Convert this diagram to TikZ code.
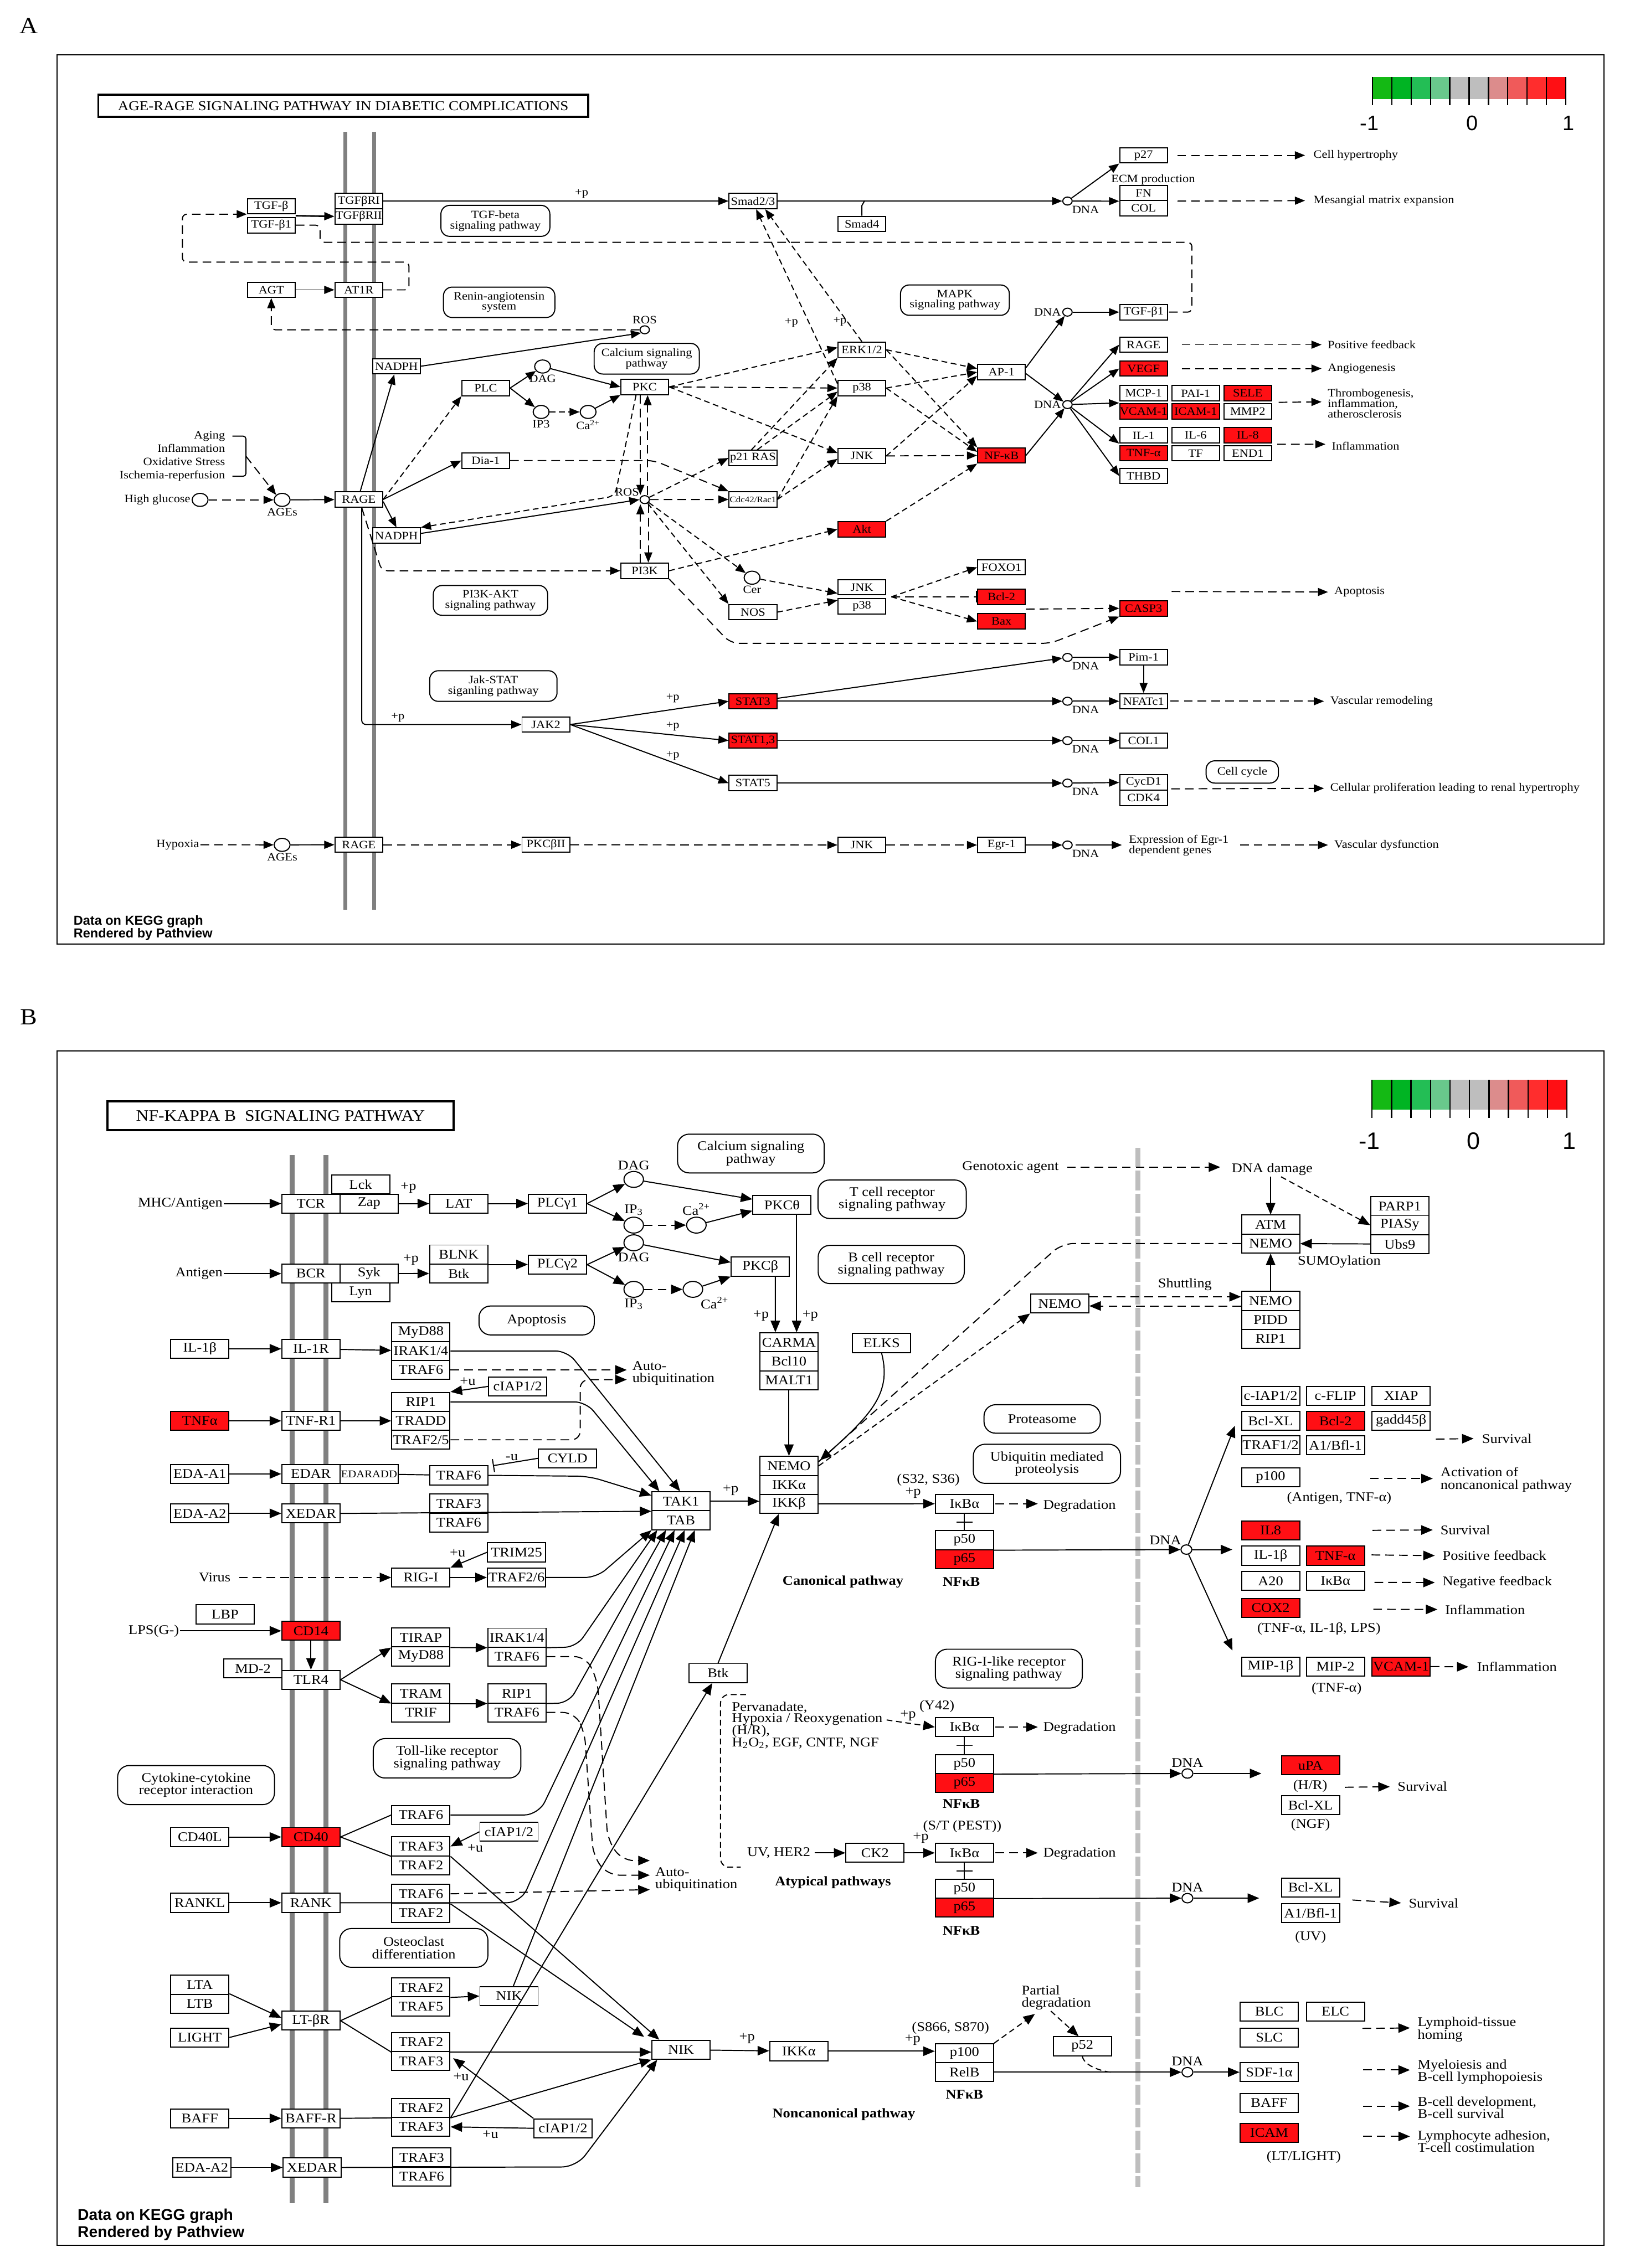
\documentclass[tikz,border=0pt]{standalone}
\usepackage{fontspec}
\setmainfont{Liberation Serif}[FakeStretch=1.1]
\newfontfamily\kegsans{Liberation Sans}
\usepackage{tikz}
\usetikzlibrary{arrows.meta,positioning,calc,shapes.geometric}
\definecolor{keggred}{RGB}{255,15,20}
\definecolor{memgray}{RGB}{128,128,128}
\definecolor{nucgray}{RGB}{190,190,190}
\definecolor{lg1}{RGB}{20,185,20}
\definecolor{lg2}{RGB}{0,180,35}
\definecolor{lg3}{RGB}{35,190,85}
\definecolor{lg4}{RGB}{105,200,140}
\definecolor{lg5}{RGB}{190,190,190}
\definecolor{lg6}{RGB}{190,190,190}
\definecolor{lg7}{RGB}{220,140,140}
\definecolor{lg8}{RGB}{240,90,90}
\definecolor{lg9}{RGB}{255,45,45}
\definecolor{lg10}{RGB}{255,15,20}
\newcommand\fa{\fontsize{7.8}{7.2}\selectfont}
\newcommand\fb{\fontsize{9.2}{8.6}\selectfont}
\begin{document}
\begin{tikzpicture}[x=1pt,y=-1pt,line width=0.75pt,
  gA/.style={draw,fill=white,minimum width=33pt,minimum height=10.6pt,inner sep=0pt,font=\fa},
  gB/.style={draw,fill=white,minimum width=40.2pt,minimum height=13.1pt,inner sep=0pt,font=\fb},
  pwA/.style={draw,rounded corners=6pt,align=center,inner sep=0pt,font=\fa},
  pwB/.style={draw,rounded corners=8pt,align=center,inner sep=0pt,font=\fb},
  cpA/.style={draw,ellipse,fill=white,minimum width=11pt,minimum height=9pt,inner sep=0pt},
  dnA/.style={draw,ellipse,fill=white,minimum width=6.5pt,minimum height=5.5pt,inner sep=0pt},
  cpB/.style={draw,ellipse,fill=white,minimum width=13.5pt,minimum height=11pt,inner sep=0pt},
  dnB/.style={draw,ellipse,fill=white,minimum width=7.5pt,minimum height=6.5pt,inner sep=0pt},
  lbA/.style={font=\fa,inner sep=0.5pt,align=left},
  lbB/.style={font=\fb,inner sep=0.5pt,align=left},
  nfk/.style={font=\fb\bfseries,inner sep=0.5pt},
  act/.style={-{Triangle[length=7pt,width=5.5pt]}},
  actB/.style={-{Triangle[length=8pt,width=6.5pt]}},
  inh/.style={-{Bar[width=8pt]}},
  ind/.style={dash pattern=on 4pt off 2.5pt},
  outd/.style={dash pattern=on 6pt off 3.5pt}]
\useasboundingbox (0,0) rectangle (1130,1568);

%% panel A
\node[font=\fontsize{16}{16}\selectfont] (a_letter) at (20,18) {A};
\draw[line width=0.9pt] (39.5,38) rectangle (1108.5,652.8);
\draw[memgray,line width=2.8pt] (238.6,91) -- (238.6,629) (258.6,91) -- (258.6,629);
\node[draw,line width=1.4pt,minimum width=338.5pt,minimum height=15.3pt,inner sep=0pt,font=\fontsize{9.4}{10}\selectfont] (a_title) at (237.2,73.2) {AGE-RAGE SIGNALING PATHWAY IN DIABETIC COMPLICATIONS};
\foreach \c [count=\i from 0] in {lg1,lg2,lg3,lg4,lg5,lg6,lg7,lg8,lg9,lg10}
  \fill[\c] (948.6+13.36*\i,53.2) rectangle ++(13.36,15.2);
\foreach \i in {0,...,10} \draw[line width=0.9pt] (948.6+13.36*\i,53.2) -- ++(0,19.6);
\foreach \n/\t/\x in {m/-1/946.6,z/0/1017.6,p/1/1084}
  \node[font=\kegsans\fontsize{14.5}{14.5}\selectfont] (a_lg\n) at (\x,85.3) {\t};
\node[font=\kegsans\bfseries\fontsize{9}{9}\selectfont,anchor=west,align=left,inner sep=0pt] (a_credit) at (50.5,641.5) {Data on KEGG graph\\Rendered by Pathview};

\node[gA] (a_tgfb) at (187.5,142.6) {TGF-β};
\node[gA] (a_tgfb1) at (187.5,155.7) {TGF-β1};
\node[gA] (a_tgfbr1) at (248,139) {TGFβRI};
\node[gA] (a_tgfbr2) at (248,149.6) {TGFβRII};
\node[gA] (a_agt) at (187.5,200.4) {AGT};
\node[gA] (a_at1r) at (248,200.4) {AT1R};
\node[gA] (a_smad23) at (520.4,139) {Smad2/3};
\node[gA] (a_smad4) at (595.7,154.8) {Smad4};
\node[dnA,label={[lbA]below right:DNA}] (a_dna1) at (737.8,139) {};
\node[gA] (a_p27) at (790.4,107.4) {p27};
\node[gA] (a_fn) at (790.4,133.4) {FN};
\node[gA] (a_col) at (790.4,144) {COL};
\node[lbA] (a_ecm) at (797,124.2) {ECM production};
\node[gA] (a_nadph1) at (274,253.2) {NADPH};
\node[dnA,label={[lbA]above:ROS}] (a_ros1) at (445.6,228) {};
\node[gA] (a_plc) at (335.7,268.3) {PLC};
\node[cpA,label={[lbA]below:DAG}] (a_dag) at (375,253.4) {};
\node[cpA,label={[lbA]below:IP3}] (a_ip3) at (374,284.8) {};
\node[cpA,label={[lbA]below:Ca\textsuperscript{2+}}] (a_ca) at (406.5,284.8) {};
\node[gA] (a_pkc) at (445.6,267.5) {PKC};
\node[gA] (a_dia1) at (335.7,318.4) {Dia-1};
\node[gA] (a_rage1) at (248,345.3) {RAGE};
\node[cpA,label={[lbA]below:AGEs}] (a_ages1) at (195,345.6) {};
\node[cpA] (a_hg) at (138.3,345.6) {};
\node[lbA,left=0pt of a_hg] (a_hgl) {High glucose};
\node[lbA,anchor=east,align=right,font=\fontsize{7.8}{9.3}\selectfont] (a_stress) at (156.4,315.4) {Aging\\Inflammation\\Oxidative Stress\\Ischemia-reperfusion};
\node[dnA,label={[lbA]150:ROS}] (a_ros2) at (445.6,345.4) {};
\node[gA] (a_p21ras) at (520.4,316.6) {p21 RAS};
\node[gA,font=\fontsize{5.9}{6}\selectfont] (a_cdc42) at (520.4,345.3) {Cdc42/Rac1};
\node[gA] (a_nadph2) at (274,370.3) {NADPH};
\node[gA] (a_pi3k) at (445.6,394.6) {PI3K};
\node[cpA,label={[lbA]below:Cer}] (a_cer) at (519.8,399.4) {};
\node[gA] (a_nos) at (520.4,423.2) {NOS};
\node[gA,fill=keggred] (a_akt) at (595.7,365.9) {Akt};
\node[gA] (a_jnk2) at (595.7,406) {JNK};
\node[gA] (a_p382) at (595.7,419.2) {p38};
\node[gA] (a_foxo1) at (692.2,392.2) {FOXO1};
\node[gA,fill=keggred] (a_bcl2) at (692.2,412.6) {Bcl-2};
\node[gA,fill=keggred] (a_bax) at (692.2,429.6) {Bax};
\node[gA,fill=keggred] (a_casp3) at (790.4,420.6) {CASP3};
\node[gA] (a_erk) at (595.7,241.8) {ERK1/2};
\node[gA] (a_p381) at (595.7,268.3) {p38};
\node[gA] (a_jnk1) at (595.7,315.2) {JNK};
\node[gA] (a_ap1) at (692.2,257.3) {AP-1};
\node[gA,fill=keggred] (a_nfkb) at (692.2,314.9) {NF-κB};
\node[dnA,label={[lbA]left:DNA}] (a_dna2) at (737.8,215.8) {};
\node[gA] (a_tgfb1r) at (790.4,215.8) {TGF-β1};
\node[dnA,label={[lbA]left:DNA}] (a_dna3) at (737.8,279.7) {};
\node[gA] (a_rage2) at (790.4,238.3) {RAGE};
\node[gA,fill=keggred] (a_vegf) at (790.4,254.8) {VEGF};
\foreach \n/\t/\x/\y/\s in {mcp1/MCP-1/790.4/271.9/white,pai1/PAI-1/826.4/271.9/white,sele/SELE/862.4/271.9/keggred,
  vcam1/VCAM-1/790.4/284.5/keggred,icam1/ICAM-1/826.4/284.5/keggred,mmp2/MMP2/862.4/284.5/white,
  il1/IL-1/790.4/301/white,il6/IL-6/826.4/301/white,il8/IL-8/862.4/301/keggred,
  tnfa/TNF-α/790.4/313.3/keggred,tf/TF/826.4/313.3/white,end1/END1/862.4/313.3/white,thbd/THBD/790.4/329/white}
  \node[gA,fill=\s] (a_\n) at (\x,\y) {\t};
\node[gA] (a_jak2) at (377.3,500.9) {JAK2};
\node[gA,fill=keggred] (a_stat3) at (520.4,484.8) {STAT3};
\node[gA,fill=keggred] (a_stat13) at (520.4,512) {STAT1,3};
\node[gA] (a_stat5) at (520.4,541.4) {STAT5};
\node[dnA,label={[lbA]below right:DNA}] (a_dna4) at (737.8,454.5) {};
\node[gA] (a_pim1) at (790.4,454.3) {Pim-1};
\node[dnA,label={[lbA]below right:DNA}] (a_dna5) at (737.8,484.8) {};
\node[gA] (a_nfatc1) at (790.4,484.8) {NFATc1};
\node[dnA,label={[lbA]below right:DNA}] (a_dna6) at (737.8,512) {};
\node[gA] (a_col1) at (790.4,512) {COL1};
\node[dnA,label={[lbA]below right:DNA}] (a_dna7) at (737.8,541.4) {};
\node[gA] (a_cycd1) at (790.4,541) {CycD1};
\node[gA] (a_cdk4) at (790.4,551.6) {CDK4};
\node[lbA] (a_hypox) at (122.9,584) {Hypoxia};
\node[cpA,label={[lbA]below:AGEs}] (a_ages2) at (195,584.1) {};
\node[gA] (a_rage3) at (248,584) {RAGE};
\node[gA] (a_pkcb2) at (377.3,584) {PKCβII};
\node[gA] (a_jnk3) at (595.7,584.2) {JNK};
\node[gA] (a_egr1) at (692.2,584.2) {Egr-1};
\node[dnA,label={[lbA]below right:DNA}] (a_dna8) at (737.8,584.2) {};
\node[lbA,anchor=west] (a_expr) at (779.4,584.6) {Expression of Egr-1\\dependent genes};

\node[pwA,minimum width=75.3pt,minimum height=21.4pt] (a_tgfpw) at (342.4,152.7) {TGF-beta\\signaling pathway};
\node[pwA,minimum width=77pt,minimum height=21pt] (a_renpw) at (345,209) {Renin-angiotensin\\system};
\node[pwA,minimum width=72.7pt,minimum height=21.2pt] (a_capw) at (447,248) {Calcium signaling\\pathway};
\node[pwA,minimum width=75.2pt,minimum height=21pt] (a_mapkpw) at (660,207.5) {MAPK\\signaling pathway};
\node[pwA,minimum width=79pt,minimum height=20.6pt] (a_pi3kpw) at (339,415.1) {PI3K-AKT\\signaling pathway};
\node[pwA,minimum width=88pt,minimum height=21.2pt] (a_jakpw) at (341,474.3) {Jak-STAT\\siganling pathway};
\node[pwA,minimum width=50pt,minimum height=15.4pt] (a_ccpw) at (858.6,533.7) {Cell cycle};

\node[lbA,anchor=west] (a_o1) at (907,107.4) {Cell hypertrophy};
\node[lbA,anchor=west] (a_o2) at (907,138.7) {Mesangial matrix expansion};
\node[lbA,anchor=west] (a_o3) at (916.9,238.3) {Positive feedback};
\node[lbA,anchor=west] (a_o4) at (916.9,254.8) {Angiogenesis};
\node[lbA,anchor=west] (a_o5) at (916.9,279) {Thrombogenesis,\\inflammation,\\atherosclerosis};
\node[lbA,anchor=west] (a_o6) at (919.6,308.3) {Inflammation};
\node[lbA,anchor=west] (a_o7) at (921.4,409.3) {Apoptosis};
\node[lbA,anchor=west] (a_o8) at (918.6,484.8) {Vascular remodeling};
\node[lbA,anchor=west] (a_o9) at (918.6,545) {Cellular proliferation leading to renal hypertrophy};
\node[lbA,anchor=west] (a_o10) at (921.4,584.2) {Vascular dysfunction};
\foreach \n/\x/\y in {1/402/134,2/547/223,3/580.5/222.5,4/275/496,5/465/482.5,6/465/502.3,7/465/522.6}
  \node[lbA] (a_pp\n) at (\x,\y) {+p};

\draw[act,line width=1.1pt] ($(a_tgfb.south east)!0.5!(a_tgfb1.north east)$) -- (a_tgfbr2.west);
\draw[act] (a_tgfbr1) -- (a_smad23);
\draw[act] (a_smad23) -- (a_dna1);
\draw (a_smad4.north) -- ++(0,-7) -- ++(2,-3.5);
\draw[act] (a_dna1) -- (a_p27.south west);
\draw[act] (a_dna1) -- (a_fn.south west);
\draw[outd,act,shorten <=6.5pt,shorten >=5pt] (a_p27.east) -- (a_o1.west);
\draw[outd,act,shorten <=6.5pt,shorten >=5pt] (a_fn.south east) -- (a_o2.west);
\draw[outd,rounded corners=3pt] (a_tgfb1.east) -| ++(16.8,11.8) -| ($(a_tgfb1r.east)+(16.5,0)$) -- (a_tgfb1r.east);
\draw[outd,act,rounded corners=3pt] (a_at1r.east) -| ++(17.8,-19.2) -| ++(-156.6,-33.1) -- ($(a_tgfb.west)+(0,5.5)$);
\draw[act] (a_agt) -- (a_at1r);
\draw[outd,act,rounded corners=3pt] (a_ros1.west) -| (a_agt.south);
\draw[act] (a_nadph1.east) -- (a_ros1.south west);
\draw[act] ($(a_rage1.north)+(1,0)$) -- ($(a_nadph1.south)+(-1.5,0)$);
\draw[ind,act] (a_rage1.east) -- (a_plc.south west);
\draw[act] (a_rage1.east) -- (a_dia1.west);
\draw[act] ($(a_rage1.east)+(0,1.5)$) -- (a_nadph2.north);
\draw[outd,act,rounded corners=4pt] ($(a_rage1.south)+(2,0)$) -- (263.8,394.6) -- (a_pi3k.west);
\draw[act,rounded corners=3pt] ($(a_rage1.south)+(2,0)$) |- (a_jak2.west);
\draw[act] (a_plc.east) -- (a_dag);
\draw[act] (a_plc.east) -- (a_ip3);
\draw[ind,act] (a_ip3) -- (a_ca);
\draw[act] (a_dag) -- (a_pkc.west);
\draw[act] (a_ca) -- (a_pkc.south west);
\draw[ind,act] (a_pkc.east) -- ($(a_erk.west)+(0,-1.5)$);
\draw[outd,act] (a_pkc.east) -- (a_p381.west);
\draw[ind,act] (a_pkc.east) -- ($(a_jnk1.west)+(0,-2)$);
\draw[outd,act] ($(a_pkc.south)+(-3,0)$) -- ($(a_ros2.center)+(-3,-3.2)$);
\draw[outd,act] ($(a_ros2.center)+(2,-3.2)$) -- ($(a_pkc.south)+(2,0)$);
\draw[outd,act] ($(a_pi3k.north)+(-3,0)$) -- ($(a_ros2.center)+(-3,3.2)$);
\draw[outd,act] ($(a_ros2.center)+(2.5,3.2)$) -- ($(a_pi3k.north)+(2.5,0)$);
\draw[ind,act,rounded corners=5pt] ($(a_pkc.south)+(-6,0)$) -- (425,343) -- (a_nadph2.north east);
\draw[act] ($(a_nadph2.east)+(0,-1.5)$) -- (a_ros2.west);
\draw[outd,act] (a_ros2) -- (a_cdc42.west);
\draw[ind,act] (a_ros2) -- (a_p21ras.west);
\draw[ind,act] (a_ros2) -- (a_cer);
\draw[ind,act] (a_ros2) -- (a_nos.north west);
\draw[outd,act,rounded corners=5pt] (a_dia1.east) -- (452,318.4) -- (a_cdc42.north west);
\draw[ind,act] ($(a_p21ras.north)+(-1,0)$) -- (a_erk.south west);
\draw[ind,act] ($(a_p21ras.north)+(3,0)$) -- ($(a_p381.west)+(0,2.5)$);
\draw[ind,act] (a_cdc42.east) -- (a_p381.south west);
\draw[ind,act] (a_cdc42.east) -- ($(a_jnk1.west)+(0,2)$);
\draw[ind,act] (a_erk.north) -- ($(a_smad23.south)+(8.5,0)$);
\draw[ind,act] ($(a_p381.west)+(0,-3)$) -- ($(a_smad23.south)+(2.2,0)$);
\draw[ind,act] (a_erk.east) -- ($(a_ap1.west)+(0,-2.5)$);
\draw[ind,act] (a_p381.east) -- (a_ap1.west);
\draw[ind,act] (a_jnk1.east) -- ($(a_ap1.west)+(0,2.5)$);
\draw[ind,act] (a_erk.east) -- (a_nfkb.north west);
\draw[ind,act] (a_p381.east) -- ($(a_nfkb.west)+(0,-2.5)$);
\draw[outd,act] (a_jnk1.east) -- (a_nfkb.west);
\draw[ind,act] (a_akt.north east) -- (a_nfkb.south west);
\draw[act] ($(a_ap1.east)+(0,-3)$) -- (a_dna2);
\draw[act] ($(a_ap1.east)+(0,1)$) -- (a_dna3);
\draw[act] (a_nfkb.east) -- (a_dna3);
\draw[act] (a_dna2) -- (a_tgfb1r);
\draw[act] (a_dna3) -- (a_rage2.west);
\draw[act] (a_dna3) -- (a_vegf.west);
\draw[act] (a_dna3) -- ($(a_mcp1.south west)+(0,1)$);
\draw[act] (a_dna3) -- (a_il1.south west);
\draw[act] (a_dna3) -- (a_thbd.west);
\draw[outd,act,shorten <=9.5pt,shorten >=3.5pt] (a_rage2.east) -- (a_o3.west);
\draw[outd,act,shorten <=9.5pt,shorten >=3.5pt] (a_vegf.east) -- (a_o4.west);
\draw[outd,act,shorten <=4.5pt,shorten >=3.5pt] ($(a_sele.south east)!0.5!(a_mmp2.north east)$) -- ($(a_o5.west)+(0,-1.2)$);
\draw[outd,act,shorten <=3.5pt,shorten >=3.5pt] ($(a_il8.south east)!0.5!(a_end1.north east)$) -- ($(a_o6.west)+(0,-1.2)$);
\draw[ind,act] (a_pi3k.east) -- (a_akt.west);
\draw[outd,act,rounded corners=6pt] (a_pi3k.south east) -- (505,444.8) -- (726,444.8) -- (a_casp3.south west);
\draw[ind,act] (a_cer) -- ($(a_jnk2.south west)+(0,-1.5)$);
\draw[ind,act] (a_nos.east) -- ($(a_p382.north west)+(0,1.5)$);
\coordinate (a_jp) at ($(a_jnk2.south east)!0.5!(a_p382.north east)+(3.5,0)$);
\draw[ind,act] (a_jp) -- (a_foxo1.west);
\draw[outd,inh] (a_jp) -- (a_bcl2.west);
\draw[ind,act] (a_jp) -- (a_bax.west);
\draw[outd,act] ($(a_bcl2.south east)!0.5!(a_bax.north east)$) -- (a_casp3.west);
\draw[outd,act,shorten >=3.5pt] ($(a_casp3.north east)+(2.5,-6)$) -- (a_o7.west);
\draw[act] (a_jak2.east) -- (a_stat3.west);
\draw[act] (a_jak2.east) -- (a_stat13.west);
\draw[act] (a_jak2.east) -- (a_stat5.west);
\draw[act] ($(a_stat3.east)+(0,-2)$) -- (a_dna4);
\draw[act] (a_stat3) -- (a_dna5);
\draw[act] (a_stat13) -- (a_dna6);
\draw[act] (a_stat5) -- (a_dna7);
\draw[act] (a_dna4) -- (a_pim1);
\draw[act] (a_pim1) -- (a_nfatc1);
\draw[act] (a_dna5) -- (a_nfatc1);
\draw[act] (a_dna6) -- (a_col1);
\draw[act] (a_dna7) -- (a_cycd1.west);
\draw[outd,act,shorten <=1.5pt,shorten >=3.5pt] (a_nfatc1) -- (a_o8);
\draw[outd,act,shorten >=3.5pt] ($(a_cycd1.south east)+(2.2,-1.3)$) -- (a_o9.west);
\draw[outd,act] (a_hypox) -- (a_ages2);
\draw[act] (a_ages2) -- (a_rage3);
\draw[outd,act] (a_rage3) -- (a_pkcb2);
\draw[outd,act] (a_pkcb2) -- (a_jnk3);
\draw[outd,act] (a_jnk3) -- (a_egr1);
\draw[act] (a_egr1) -- (a_dna8);
\draw[act,shorten <=2pt,shorten >=4pt] (a_dna8) -- (a_expr.west |- a_dna8);
\draw[outd,act,shorten <=7pt,shorten >=3.5pt] (a_expr.east |- a_dna8) -- (a_o10.west);
\draw[outd,act] (a_hg) -- (a_ages1);
\draw[act] (a_ages1) -- (a_rage1);
\coordinate (a_brk) at (170,315.4);
\draw[rounded corners=2pt] ($(a_brk)+(-9.4,-13.9)$) -| (a_brk) |- ($(a_brk)+(-9.4,13.9)$);
\draw[outd,act] (a_brk) -- (a_ages1.north west);

%% panel B
\node[font=\fontsize{16}{16}\selectfont] (b_letter) at (20,703) {B};
\draw[line width=0.9pt] (39.5,726.5) rectangle (1108.5,1552.2);
\draw[memgray,line width=3.3pt] (202,798.7) -- (202,1523) (225.3,798.7) -- (225.3,1523);
\draw[nucgray,line width=3.5pt,dash pattern=on 13.5pt off 2.3pt] (786.4,793.6) -- (786.4,1512);
\node[draw,line width=1.4pt,minimum width=239.2pt,minimum height=19.8pt,inner sep=0pt,font=\fontsize{11}{11}\selectfont] (b_title) at (193.9,771.3) {NF-KAPPA B\ \ SIGNALING PATHWAY};
\foreach \c [count=\i from 0] in {lg1,lg2,lg3,lg4,lg5,lg6,lg7,lg8,lg9,lg10}
  \fill[\c] (948.3+13.47*\i,746.6) rectangle ++(13.47,20.6);
\foreach \i in {0,...,10} \draw[line width=0.9pt] (948.3+13.47*\i,746.6) -- ++(0,26.4);
\foreach \n/\t/\x in {m/-1/946.6,z/0/1018.3,p/1/1084.7}
  \node[font=\kegsans\fontsize{16.5}{16.5}\selectfont] (b_lg\n) at (\x,789) {\t};
\node[font=\kegsans\bfseries\fontsize{10.8}{11.8}\selectfont,anchor=west,align=left,inner sep=0pt] (b_credit) at (53.3,1538.1) {Data on KEGG graph\\Rendered by Pathview};

\node[gB] (b_lck) at (249.3,818.9) {Lck};
\node[gB] (b_tcr) at (214.9,832.1) {TCR};
\node[gB] (b_zap) at (255.1,832.1) {Zap};
\node[gB] (b_lat) at (317.1,832.1) {LAT};
\node[gB] (b_plcg1) at (385.3,832.1) {PLCγ1};
\node[cpB,label={[lbB]above:DAG}] (b_dag1) at (438,815.4) {};
\node[cpB,label={[lbB]above:IP\textsubscript{3}}] (b_ip31) at (438,847) {};
\node[cpB,label={[lbB]above:Ca\textsuperscript{2+}}] (b_ca1) at (481.3,847) {};
\node[cpB,label={[lbB]below:DAG}] (b_dag2) at (438,859.2) {};
\node[cpB,label={[lbB]below:IP\textsubscript{3}}] (b_ip32) at (438,891.4) {};
\node[cpB,label={[lbB]below right:Ca\textsuperscript{2+}}] (b_ca2) at (478.9,891.4) {};
\node[gB] (b_pkct) at (540.5,833.1) {PKCθ};
\node[gB] (b_pkcb) at (525.5,875.7) {PKCβ};
\node[gB] (b_bcr) at (214.9,880.5) {BCR};
\node[gB] (b_syk) at (255.1,880.5) {Syk};
\node[gB] (b_lyn) at (249.3,893.6) {Lyn};
\node[gB] (b_blnk) at (317.1,867.3) {BLNK};
\node[gB] (b_btk1) at (317.1,880.4) {Btk};
\node[gB] (b_plcg2) at (385.3,874.3) {PLCγ2};
\node[gB] (b_carma) at (545.3,928) {CARMA};
\node[gB] (b_bcl10) at (545.3,941.1) {Bcl10};
\node[gB] (b_malt1) at (545.3,954.2) {MALT1};
\node[gB] (b_il1b) at (138.1,932.5) {IL-1β};
\node[gB] (b_il1r) at (214.9,932.5) {IL-1R};
\node[gB] (b_myd88a) at (290.9,920.9) {MyD88};
\node[gB] (b_irak1) at (290.9,934) {IRAK1/4};
\node[gB] (b_traf6a) at (290.9,947.1) {TRAF6};
\node[gB] (b_ciap1) at (357.8,958.5) {cIAP1/2};
\node[gB] (b_rip1a) at (290.9,969.2) {RIP1};
\node[gB] (b_tradd) at (290.9,982.3) {TRADD};
\node[gB] (b_traf25) at (290.9,995.4) {TRAF2/5};
\node[gB,fill=keggred] (b_tnfa) at (138.1,982.3) {TNFα};
\node[gB] (b_tnfr1) at (214.9,982.3) {TNF-R1};
\node[gB] (b_cyld) at (392.3,1008.2) {CYLD};
\node[gB] (b_edaa1) at (138.1,1019) {EDA-A1};
\node[gB] (b_edar) at (214.9,1019) {EDAR};
\node[gB,font=\fontsize{7.2}{7.2}\selectfont] (b_edaradd) at (255.1,1019) {EDARADD};
\node[gB] (b_traf6b) at (317.1,1020) {TRAF6};
\node[gB] (b_edaa2) at (138.1,1046.3) {EDA-A2};
\node[gB] (b_xedar) at (214.9,1046.3) {XEDAR};
\node[gB] (b_traf3a) at (317.1,1039.5) {TRAF3};
\node[gB] (b_traf6c) at (317.1,1052.6) {TRAF6};
\node[gB] (b_tak1) at (470.7,1037.9) {TAK1};
\node[gB] (b_tab) at (470.7,1051) {TAB};
\node[gB] (b_nemo1) at (545.3,1013.5) {NEMO};
\node[gB] (b_ikka1) at (545.3,1026.6) {IKKα};
\node[gB] (b_ikkb) at (545.3,1039.7) {IKKβ};
\node[gB] (b_trim25) at (357,1073.2) {TRIM25};
\node[gB] (b_rigi) at (290.9,1090.6) {RIG-I};
\node[gB] (b_traf26) at (357,1090.6) {TRAF2/6};
\node[gB] (b_lbp) at (155.6,1116.1) {LBP};
\node[gB,fill=keggred] (b_cd14) at (214.9,1127.5) {CD14};
\node[gB] (b_md2) at (174.8,1153.5) {MD-2};
\node[gB] (b_tlr4) at (214.9,1161.3) {TLR4};
\node[gB] (b_tirap) at (290.9,1132.1) {TIRAP};
\node[gB] (b_myd88b) at (290.9,1145.2) {MyD88};
\node[gB] (b_irak2) at (357.3,1132.2) {IRAK1/4};
\node[gB] (b_traf6d) at (357.3,1145.3) {TRAF6};
\node[gB] (b_tram) at (290.9,1170.8) {TRAM};
\node[gB] (b_trif) at (290.9,1183.9) {TRIF};
\node[gB] (b_rip1b) at (357.3,1170.8) {RIP1};
\node[gB] (b_traf6e) at (357.3,1183.9) {TRAF6};
\node[gB] (b_btk2) at (496.3,1156.7) {Btk};
\node[gB] (b_cd40l) at (138.1,1270) {CD40L};
\node[gB,fill=keggred] (b_cd40) at (214.9,1270) {CD40};
\node[gB] (b_traf6f) at (290.9,1254.8) {TRAF6};
\node[gB] (b_ciap2) at (351.8,1266.4) {cIAP1/2};
\node[gB] (b_traf3b) at (290.9,1276.5) {TRAF3};
\node[gB] (b_traf2a) at (290.9,1289.6) {TRAF2};
\node[gB] (b_rankl) at (138.1,1315.5) {RANKL};
\node[gB] (b_rank) at (214.9,1315.5) {RANK};
\node[gB] (b_traf6g) at (290.9,1309.3) {TRAF6};
\node[gB] (b_traf2b) at (290.9,1322.4) {TRAF2};
\node[gB] (b_lta) at (138.1,1372.2) {LTA};
\node[gB] (b_ltb) at (138.1,1385.3) {LTB};
\node[gB] (b_light) at (138.1,1408.6) {LIGHT};
\node[gB] (b_ltbr) at (214.9,1397) {LT-βR};
\node[gB] (b_traf2c) at (290.9,1374) {TRAF2};
\node[gB] (b_traf5) at (290.9,1387.1) {TRAF5};
\node[gB] (b_nik1) at (351.8,1380) {NIK};
\node[gB] (b_traf2d) at (290.9,1411.8) {TRAF2};
\node[gB] (b_traf3c) at (290.9,1424.9) {TRAF3};
\node[gB] (b_baff) at (138.1,1464.5) {BAFF};
\node[gB] (b_baffr) at (214.9,1464.5) {BAFF-R};
\node[gB] (b_traf2e) at (290.9,1457.3) {TRAF2};
\node[gB] (b_traf3d) at (290.9,1470.4) {TRAF3};
\node[gB] (b_ciap3) at (389.1,1471.4) {cIAP1/2};
\node[gB] (b_edaa2b) at (139.5,1498.5) {EDA-A2};
\node[gB] (b_xedar2) at (215.7,1498.5) {XEDAR};
\node[gB] (b_traf3e) at (291.5,1491.5) {TRAF3};
\node[gB] (b_traf6h) at (291.5,1504.6) {TRAF6};
\node[gB] (b_nik2) at (470.7,1417.1) {NIK};
\node[gB] (b_ikka2) at (552.1,1418.1) {IKKα};
\node[gB] (b_p100) at (666.6,1419.5) {p100};
\node[gB] (b_relb) at (666.6,1432.6) {RelB};
\node[gB] (b_p52) at (748.1,1414.7) {p52};
\node[gB] (b_ikba1) at (666.6,1039.6) {IκBα};
\node[gB] (b_p50a) at (666.6,1064.8) {p50};
\node[gB,fill=keggred] (b_p65a) at (666.6,1077.9) {p65};
\node[gB] (b_ikba2) at (666.6,1194) {IκBα};
\node[gB] (b_p50b) at (666.6,1219.6) {p50};
\node[gB,fill=keggred] (b_p65b) at (666.6,1232.7) {p65};
\node[gB] (b_ck2) at (604.8,1281) {CK2};
\node[gB] (b_ikba3) at (666.6,1281) {IκBα};
\node[gB] (b_p50c) at (666.6,1305.7) {p50};
\node[gB,fill=keggred] (b_p65c) at (666.6,1318.8) {p65};
\node[gB] (b_elks) at (609.3,928.5) {ELKS};
\node[gB] (b_nemo2) at (732.4,901.2) {NEMO};
\node[gB] (b_atm) at (878.2,846.6) {ATM};
\node[gB] (b_nemo3) at (878.2,859.7) {NEMO};
\node[gB] (b_parp1) at (967.5,833.9) {PARP1};
\node[gB] (b_piasy) at (967.5,847) {PIASy};
\node[gB] (b_ubs9) at (967.5,860.1) {Ubs9};
\node[gB] (b_nemo4) at (878.2,899.4) {NEMO};
\node[gB] (b_pidd) at (878.2,912.5) {PIDD};
\node[gB] (b_rip1c) at (878.2,925.6) {RIP1};
\foreach \n/\t/\x/\y/\s in {ciap/{c-IAP1/2}/878.2/965/white,cflip/c-FLIP/923/965/white,xiap/XIAP/968.4/965/white,
  bclxl/Bcl-XL/878.2/982.3/white,bcl2/Bcl-2/923/982.3/keggred,gadd/gadd45β/968.4/982.3/white,
  traf12/{TRAF1/2}/878.2/999/white,a1a/{A1/Bfl-1}/923/999/white,p100r/p100/878.2/1021.2/white,
  il8/IL8/878.2/1058/keggred,il1b2/IL-1β/878.2/1075.5/white,tnfa2/TNF-α/923/1075.5/keggred,
  a20/A20/878.2/1093/white,ikba4/IκBα/923/1093/white,cox2/COX2/878.2/1111.6/keggred,
  mip1b/MIP-1β/878.2/1152.2/white,mip2/MIP-2/923/1152.2/white,vcam1/VCAM-1/968.4/1152.2/keggred,
  upa/uPA/905.8/1220.5/keggred,bclxl2/Bcl-XL/905.8/1248/white,bclxl3/Bcl-XL/905.8/1304.9/white,a1b/{A1/Bfl-1}/905.8/1322.5/white,
  blc/BLC/877.2/1390.8/white,elc/ELC/923/1390.8/white,slc/SLC/877.2/1408.7/white,sdf/SDF-1α/877.2/1432.6/white,
  baff2/BAFF/877.2/1453.8/white,icam/ICAM/877.2/1474.6/keggred}
  \node[gB,fill=\s] (b_\n) at (\x,\y) {\t};
\node[dnB,label={[lbB]above left:DNA}] (b_dna1) at (820,1071.3) {};
\node[dnB,label={[lbB]above:DNA}] (b_dna2) at (820.7,1226.1) {};
\node[dnB,label={[lbB]above:DNA}] (b_dna3) at (820.7,1312.3) {};
\node[dnB,label={[lbB]above:DNA}] (b_dna4) at (820.7,1432.6) {};

\node[pwB,minimum width=101.4pt,minimum height=26.8pt] (b_capw) at (519,797.5) {Calcium signaling\\pathway};
\node[pwB,minimum width=102.5pt,minimum height=26.6pt] (b_tcrpw) at (616.6,829.1) {T cell receptor\\signaling pathway};
\node[pwB,minimum width=101pt,minimum height=26.4pt] (b_bcrpw) at (616,874.2) {B cell receptor\\signaling pathway};
\node[pwB,minimum width=79.7pt,minimum height=20pt] (b_apopw) at (370.9,912.9) {Apoptosis};
\node[pwB,minimum width=80.4pt,minimum height=19.7pt] (b_protpw) at (720.3,981) {Proteasome};
\node[pwB,minimum width=101.7pt,minimum height=27pt] (b_ubipw) at (723.6,1012) {Ubiquitin mediated\\proteolysis};
\node[pwB,minimum width=102pt,minimum height=27.2pt] (b_tlrpw) at (309,1215.6) {Toll-like receptor\\signaling pathway};
\node[pwB,minimum width=108.4pt,minimum height=27pt] (b_ccpw) at (135.5,1234.1) {Cytokine-cytokine\\receptor interaction};
\node[pwB,minimum width=101.5pt,minimum height=26.8pt] (b_rigpw) at (697.3,1153.6) {RIG-I-like receptor\\signaling pathway};
\node[pwB,minimum width=102.4pt,minimum height=26.8pt] (b_ostpw) at (286,1346.7) {Osteoclast\\differentiation};

\node[lbB,anchor=east] (b_mhc) at (154.7,832.1) {MHC/Antigen};
\node[lbB,anchor=east] (b_ant) at (154.7,880.5) {Antigen};
\node[lbB] (b_virus) at (148.4,1090.6) {Virus};
\node[lbB,anchor=east] (b_lps) at (124.6,1127.5) {LPS(G-)};
\node[lbB,anchor=east] (b_geno) at (732.6,806.9) {Genotoxic agent};
\node[lbB,anchor=west] (b_dnad) at (850.4,808.5) {DNA damage};
\node[lbB] (b_shut) at (819,887.9) {Shuttling};
\node[lbB] (b_sumo) at (925.6,872.4) {SUMOylation};
\node[lbB,anchor=west] (b_auto1) at (436.2,949.5) {Auto-\\ubiquitination};
\node[lbB,anchor=west] (b_auto2) at (452,1299.2) {Auto-\\ubiquitination};
\node[lbB,anchor=west] (b_perv1) at (505.1,1180.6) {Pervanadate,};
\node[lbB,anchor=west] (b_perv2) at (505.1,1188.8) {Hypoxia / Reoxygenation};
\node[lbB,anchor=west] (b_perv3) at (505.1,1197) {(H/R),};
\node[lbB,anchor=west] (b_perv4) at (505.1,1205.2) {H\textsubscript{2}O\textsubscript{2}, EGF, CNTF, NGF};
\node[lbB,anchor=east] (b_uv) at (561,1281) {UV, HER2};
\node[lbB,anchor=west] (b_partial) at (705.3,1381) {Partial\\degradation};
\foreach \n/\y in {1/1041,2/1194.5,3/1281.5} \node[lbB,anchor=west] (b_deg\n) at (720.3,\y) {Degradation};
\foreach \n/\x/\y in {1/664.4/1093.7,2/664.4/1247,3/664.4/1334.6,4/666.6/1448} \node[nfk] (b_nf\n) at (\x,\y) {NFκB};
\node[nfk,anchor=west] (b_canon) at (540,1093.5) {Canonical pathway};
\node[nfk,anchor=west] (b_atyp) at (534.8,1301.3) {Atypical pathways};
\node[nfk,anchor=west] (b_nonc) at (533,1462) {Noncanonical pathway};
\foreach \n/\t/\x/\y in {1/+p/282.3/821.3,2/+p/284/871,3/+p/526/909.6,4/+p/560/909.6,5/+p/505/1030.4,6/+p/631.1/1032.2,
  7/+p/627.6/1186,8/+p/636.4/1270.7,9/+p/630.8/1410.5,10/+p/516.3/1409.3,11/+u/323.3/955.1,12/+u/316.3/1073.7,
  13/+u/328.5/1277.6,14/+u/318.7/1435.7,15/+u/339/1475.7,16/-u/353.7/1007.6}
  \node[lbB] (b_m\n) at (\x,\y) {\t};
\foreach \n/\t/\x/\y in {1/{(S32, S36)}/641.6/1023.1,2/(Y42)/647.6/1179.7,3/{(S/T (PEST))}/665.1/1262.9,4/{(S866, S870)}/657/1402,
  5/{(Antigen, TNF-α)}/925.6/1035.8,6/{(TNF-α, IL-1β, LPS)}/911.6/1126,7/(TNF-α)/923.8/1167.3,8/{(H/R)}/905.6/1234.7,
  9/(NGF)/905.8/1261.6,10/(UV)/905.8/1339.2,11/{(LT/LIGHT)}/901.1/1491.2}
  \node[lbB] (b_q\n) at (\x,\y) {\t};
\node[lbB,anchor=west] (b_o1) at (1023.5,994.5) {Survival};
\node[lbB,anchor=west] (b_o2) at (994.8,1023) {Activation of\\noncanonical pathway};
\node[lbB,anchor=west] (b_o3) at (994.8,1057.7) {Survival};
\node[lbB,anchor=west] (b_o4) at (996.2,1075.5) {Positive feedback};
\node[lbB,anchor=west] (b_o5) at (996.2,1094.1) {Negative feedback};
\node[lbB,anchor=west] (b_o6) at (998,1112.7) {Inflammation};
\node[lbB,anchor=west] (b_o7) at (1020,1152.4) {Inflammation};
\node[lbB,anchor=west] (b_o8) at (965.1,1235.2) {Survival};
\node[lbB,anchor=west] (b_o9) at (972.8,1315.9) {Survival};
\node[lbB,anchor=west] (b_o10) at (979,1403) {Lymphoid-tissue\\homing};
\node[lbB,anchor=west] (b_o11) at (979,1432.3) {Myeloiesis and\\B-cell lymphopoiesis};
\node[lbB,anchor=west] (b_o12) at (979,1457.1) {B-cell development,\\B-cell survival};
\node[lbB,anchor=west] (b_o13) at (979,1480.5) {Lymphocyte adhesion,\\T-cell costimulation};

\draw[actB] (b_mhc) -- (b_tcr);
\draw[actB] (b_ant) -- (b_bcr);
\draw[actB] (b_zap) -- (b_lat);
\draw[actB] (b_syk) -- (b_btk1);
\draw[actB] (b_lat) -- (b_plcg1);
\draw[actB] (b_blnk.south east) -- (b_plcg2.west |- b_blnk.south east);
\draw[actB] (b_plcg1.east) -- (b_dag1);
\draw[actB] (b_plcg1.east) -- (b_ip31);
\draw[actB] (b_dag1) -- ($(b_pkct.west)+(0,-4)$);
\draw[outd,actB] (b_ip31) -- (b_ca1);
\draw[actB] (b_ca1) -- ($(b_pkct.west)+(0,4)$);
\draw[actB] (b_plcg2.east) -- (b_dag2);
\draw[actB] (b_plcg2.east) -- (b_ip32);
\draw[actB] (b_dag2) -- ($(b_pkcb.west)+(0,-3)$);
\draw[outd,actB] (b_ip32) -- (b_ca2);
\draw[actB] (b_ca2) -- (b_pkcb.south west);
\draw[actB] ($(b_pkcb.south)+(10.4,0)$) -- ($(b_carma.north)+(-9.4,0)$);
\draw[actB] ($(b_pkct.south)+(10.1,0)$) -- ($(b_carma.north)+(5.3,0)$);
\draw[actB] (b_malt1) -- (b_nemo1);
\draw[actB] (b_il1b) -- (b_il1r);
\draw[actB] (b_il1r) -- (b_irak1);
\draw[outd,actB] (b_traf6a.east) -- ($(b_auto1.west |- b_traf6a.east)+(-3,0)$);
\draw[outd,actB,rounded corners=6pt] (b_traf25.east) -- (401,995.4) -- (401,953.8) -- ($(b_auto1.west)+(-3,4.3)$);
\draw[actB] (b_ciap1.west) -- (b_rip1a.north east);
\draw[actB] (b_tnfa) -- (b_tnfr1);
\draw[actB] (b_tnfr1) -- (b_tradd);
\draw[actB,rounded corners=8pt] (b_irak1.east) -- (392,934) -- ($(b_tak1.north)+(-0.6,0)$);
\draw[actB,rounded corners=8pt] (b_rip1a.east) -- (405,969.2) -- ($(b_tak1.north west)+(5.5,0)$);
\coordinate (b_cyldt) at (340.7,1013.3);
\draw[-{Bar[width=9pt]}] (b_cyld.west) -- (b_cyldt);
\draw (b_edaradd) -- (b_traf6b);
\draw[actB] (b_edaa1) -- (b_edar);
\draw[actB,rounded corners=8pt] (b_traf6b.east) -- (407,1020.6) -- ($(b_tak1.west)+(0,-4)$);
\draw[actB] (b_edaa2) -- (b_xedar);
\draw[actB] (b_xedar.east) -- (b_tak1.south west);
\draw[actB] (b_tak1.east) -- (b_ikkb.west |- b_tak1.east);
\draw[outd,actB,shorten <=5pt] (b_virus) -- (b_rigi);
\draw[actB] (b_rigi) -- (b_traf26);
\draw[actB] (b_trim25.west) -- (b_rigi.north east);
\draw[actB,rounded corners=8pt] (b_traf26.east) -- (412.4,1090.6) -- (b_tab.south west);
\draw[actB] (b_lps) -- (b_cd14);
\draw[actB] (b_cd14) -- (b_tlr4);
\draw[actB] (b_tlr4.east) -- (b_tirap.south west);
\draw[actB] (b_tlr4.east) -- (b_tram.south west);
\draw[actB] (b_tirap.south east) -- (b_irak2.south west);
\draw[actB] (b_tram.south east) -- (b_rip1b.south west);
\draw[actB,rounded corners=8pt] (b_irak2.south east) -- (398.4,1138.65) -- ($(b_tab.south west)+(4,0)$);
\draw[actB,rounded corners=8pt] (b_rip1b.south east) -- (393.2,1177.35) -- ($(b_tab.south west)+(10,0)$);
\draw[outd,actB,rounded corners=8pt] (b_traf6d.east) -- (405,1145.3) -- (413,1162) -- (420,1272) -- (430,1286.3) -- ($(b_auto2.west)+(-2.9,-12.9)$);
\draw[outd,actB,rounded corners=8pt] (b_traf6e.east) -- (397,1183.9) -- (404,1197) -- (410,1283) -- (420,1296.4) -- ($(b_auto2.west)+(-2.9,-2.8)$);
\draw[actB] (b_cd40l) -- (b_cd40);
\draw (b_cd40.east) -- (b_traf6f.west);
\draw (b_cd40.east) -- (b_traf3b.south west);
\draw[actB,rounded corners=10pt] (b_traf6f.east) -- (372.2,1254.8) -- ($(b_tab.south west)+(16,0)$);
\draw[actB] (b_ciap2.west) -- (b_traf3b.east);
\draw[actB] (b_traf3b.south east) -- ($(b_nik2.north west)+(5.5,0)$);
\draw[actB] (b_rankl) -- (b_rank);
\draw[actB,rounded corners=10pt] (b_rank.east) -- (360,1315.5) -- ($(b_tab.south west)+(23,0)$);
\draw[outd,actB] (b_traf6g.east) -- ($(b_auto2.west)+(-2.9,7.2)$);
\draw[actB] (b_traf6g.south east) -- ($(b_nik2.north west)+(-5,-2)$);
\draw[actB] (b_ltb.north east) -- ($(b_ltbr.west)+(0,-2)$);
\draw[actB] (b_light.east) -- ($(b_ltbr.west)+(0,2.5)$);
\draw (b_ltbr.east) -- (b_traf2c.south west);
\draw (b_ltbr.east) -- (b_traf2d.south west);
\draw[actB] (b_traf2c.south east) -- (b_nik1.west);
\draw[actB] ($(b_nik1.north)+(3,0)$) -- ($(b_tab.south west)+(30,0)$);
\draw[actB] (b_traf2d.south east) -- (b_nik2.west |- b_traf2d.south east);
\draw[actB] (b_ciap3.north west) -- ($(b_traf3c.east)+(1.8,-2)$);
\draw[actB] (b_ciap3.west) -- (b_traf3d.east);
\draw[actB] (b_baff) -- (b_baffr);
\draw (b_baffr.east) -- (b_traf2e.south west);
\draw[actB] (b_traf2e.south east) -- (b_nik2.south west);
\draw[actB] (b_traf2e.south east) -- ($(b_btk2.south)+(-4,0)$);
\draw[actB] (b_edaa2b) -- (b_xedar2);
\draw[actB,rounded corners=10pt] (b_xedar2.east) -- (398.4,1498.1) -- ($(b_nik2.south west)+(4,0)$);
\draw[actB] (b_btk2.north) -- ($(b_ikkb.south)+(-7,0)$);
\draw[actB] (b_nik2) -- (b_ikka2);
\draw[actB] (b_ikka2.east) -- (b_p100.west |- b_ikka2.east);
\draw[ind,actB] (b_p100.north east) -- ($(b_partial.south west)+(10,2)$);
\draw[ind,actB] ($(b_partial.south west)+(21,0)$) -- ($(b_p52.north)+(-2.6,0)$);
\coordinate (b_relbj) at (767.5,1432.6);
\draw[ind] (b_p52.south) .. controls +(1,6) and +(-8,-1) .. (b_relbj);
\draw[actB] (b_relb.east) -- (b_dna4);
\draw[actB] (b_dna4) -- (b_sdf.west);
\draw[actB] (b_ikkb.east) -- (b_ikba1.west);
\foreach \a/\b in {ikba1/p50a,ikba2/p50b,ikba3/p50c}{
  \draw (b_\a.south) -- (b_\b.north);
  \draw ($(b_\a.south)!0.5!(b_\b.north)+(-5.5,0)$) -- ++(11,0);
}
\foreach \a/\n in {ikba1/1,ikba2/2,ikba3/3}
  \draw[outd,actB,shorten <=1pt] (b_\a.east) -- ($(b_deg\n.west |- b_\a.east)+(-3,0)$);
\draw[actB] (b_p50a.south east) -- (b_dna1);
\draw[actB,shorten >=6pt] (b_dna1) -- (b_il1b2.west |- b_dna1);
\draw[actB] (b_dna1) -- ($(b_bclxl.west)+(-4.2,3.4)$);
\draw[actB] (b_dna1) -- ($(b_mip1b.north west)+(-5.9,-4.2)$);
\draw[ind,actB,shorten <=2pt] (b_perv2.east) -- (b_ikba2.west);
\draw[ind,rounded corners=6pt] (515.6,1171.5) -| (498,1290.9) -- (512,1290.9);
\draw[actB] (b_p50b.south east) -- (b_dna2);
\draw[actB,shorten >=13.5pt] (b_dna2) -- (b_upa.west |- b_dna2);
\draw[actB,shorten <=2pt] (b_uv) -- (b_ck2);
\draw[actB] (b_ck2) -- (b_ikba3);
\draw[actB] (b_p50c.south east) -- (b_dna3);
\draw[actB,shorten >=15pt] (b_dna3) -- (b_bclxl3.west |- b_dna3);
\draw[outd,actB,shorten <=4.9pt,shorten >=7pt] (b_geno.east) -- (b_dnad.west |- b_geno.east);
\draw[actB] (b_atm.north |- b_dnad.south) -- (b_atm.north);
\draw[ind,actB] ($(b_dnad.south west)+(35,0)$) -- (b_piasy.west);
\draw[actB] (b_ubs9) -- (b_nemo3);
\draw[actB] (b_nemo4) -- (b_nemo3);
\draw[outd,actB] ($(b_nemo2.east)+(0,-4.7)$) -- ($(b_nemo4.west)+(0,-2.9)$);
\draw[outd,actB] ($(b_nemo4.west)+(0,3.5)$) -- ($(b_nemo2.east)+(0,1.7)$);
\draw[outd,actB,rounded corners=8pt] (b_nemo3.west) -- (734,859.7) -- ($(b_nemo1.north east)+(1,3)$);
\draw[ind,actB] (b_nemo1.east) -- (b_nemo2.south west);
\draw (b_elks.south) .. controls (617,965) and (600,980) .. ($(b_nemo1.north east)+(0,4)$);
\draw[outd,actB,shorten >=5pt] ($(b_gadd.south east)+(3.5,5.7)$) -- (b_o1.west);
\draw[outd,actB,shorten >=4.5pt] ($(b_p100r.east)+(48.3,1)$) -- ($(b_o2.west)+(0,-0.8)$);
\draw[outd,actB,shorten >=4.5pt] ($(b_il8.east)+(50,0)$) -- (b_o3.west);
\draw[outd,actB,shorten >=4.5pt] ($(b_tnfa2.east)+(4.5,-0.5)$) -- (b_o4.west);
\draw[outd,actB,shorten >=4.5pt] ($(b_ikba4.east)+(6.5,1)$) -- (b_o5.west);
\draw[outd,actB,shorten >=4.5pt] ($(b_cox2.east)+(50.5,1)$) -- (b_o6.west);
\draw[outd,actB,shorten >=5pt] (b_vcam1.east) -- (b_o7.west);
\draw[outd,actB,shorten >=4.5pt] ($(b_upa.south east)+(3.3,8.2)$) -- (b_o8.west);
\draw[outd,actB,shorten >=4.5pt] ($(b_a1b.north east)+(8.5,-2)$) -- (b_o9.west);
\draw[outd,actB,shorten >=4.5pt] ($(b_elc.south east)+(-1.8,4.6)$) -- ($(b_o10.west)+(0,-1)$);
\draw[outd,actB,shorten >=4.5pt] ($(b_sdf.east)+(44.4,-1.5)$) -- ($(b_o11.west)+(0,-1.2)$);
\draw[outd,actB,shorten >=4.5pt] ($(b_baff2.east)+(44.4,2.3)$) -- ($(b_o12.west)+(0,-1)$);
\draw[outd,actB,shorten >=4.5pt] ($(b_icam.east)+(44.4,2.4)$) -- ($(b_o13.west)+(0,-3.5)$);
\end{tikzpicture}
\end{document}
